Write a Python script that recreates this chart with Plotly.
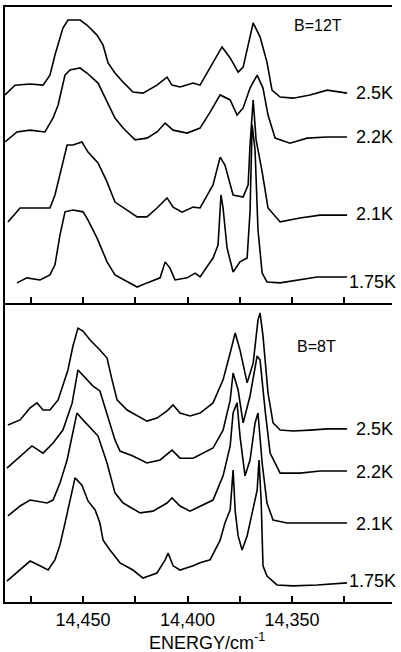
import plotly.graph_objects as go

# ---------------- data ----------------
temps = ["1.75K", "2.1K", "2.2K", "2.5K"]

# B = 12 T panel: vertical offsets of each spectrum (arb. units)
offsets_12T = [9, 30, 56, 71]
# B = 8 T panel
offsets_8T = [6, 26, 43.5, 58]

# ---- B = 12 T spectra (energy in cm^-1, intensity in arb. units) ----
e12_175 = [14481.6, 14476.8, 14470.6, 14465.8, 14463.4, 14461.0, 14458.6, 14454.8, 14450.0, 14448.1,
           14443.3, 14438.5, 14434.7, 14428.9, 14424.1, 14419.4, 14413.1, 14410.7, 14408.4, 14406.0,
           14400.2, 14396.4, 14394.0, 14387.8, 14385.4, 14384.0, 14383.0, 14381.1, 14378.2, 14374.9,
           14371.5, 14370.1, 14369.1, 14367.7, 14366.3, 14364.3, 14362.0, 14355.7, 14346.2, 14338.0,
           14330.4, 14323.7]
i12_175 = [-2.2, -0.5, -1.2, 0.5, 3.9, 14.0, 21.8, 22.4, 21.8, 19.7,
           13.0, 4.9, 0.5, -1.9, -3.6, -2.2, -0.5, 4.9, 2.8, -1.2,
           -0.5, 1.1, -0.2, 6.2, 10.6, 27.5, 23.1, 9.6, 1.5, 4.9,
           6.2, 21.8, 51.2, 42.7, 15.7, 1.1, -1.9, -2.2, -1.2, -0.2,
           -0.2, -0.2]

e12_21 = [14485.9, 14480.1, 14473.9, 14465.8, 14463.4, 14460.0, 14457.6, 14454.8, 14450.5, 14447.6,
          14442.8, 14438.5, 14434.7, 14428.9, 14424.1, 14419.4, 14414.6, 14409.8, 14406.9, 14402.6,
          14397.3, 14394.0, 14387.8, 14384.4, 14382.1, 14378.2, 14373.4, 14371.0, 14370.1, 14368.6,
          14367.2, 14364.3, 14361.5, 14355.7, 14346.2, 14336.6, 14323.7]
i12_21 = [-2.6, 2.1, 2.1, 2.1, 6.5, 16.6, 23.4, 23.4, 24.4, 21.0,
          17.3, 10.9, 4.1, 1.4, -0.9, -0.9, 2.1, 5.5, 2.4, 0.7,
          2.4, 2.1, 9.9, 19.3, 16.6, 6.5, 5.8, 9.9, 23.4, 38.6,
          25.1, 14.3, 2.1, -2.6, -1.3, -0.3, -0.3]

e12_22 = [14487.3, 14481.6, 14475.3, 14468.2, 14464.3, 14461.9, 14458.6, 14456.2, 14451.4, 14448.1,
          14442.8, 14438.5, 14434.7, 14430.8, 14425.1, 14419.4, 14414.6, 14410.7, 14406.9, 14400.2,
          14394.0, 14389.2, 14384.4, 14379.6, 14376.3, 14373.4, 14370.1, 14366.7, 14363.9, 14361.5,
          14358.1, 14351.0, 14342.8, 14333.2, 14323.7]
i12_22 = [-1.6, 1.8, 2.4, 1.8, 6.5, 10.9, 21.0, 22.7, 23.4, 21.7,
          18.3, 11.9, 6.5, 3.1, -0.9, -0.3, 1.8, 4.8, 2.4, 1.4,
          3.1, 8.5, 14.3, 12.6, 7.5, 9.9, 16.6, 21.0, 16.6, 7.5,
          -0.3, -2.0, -0.3, 0.1, 0.1]

e12_25 = [14487.3, 14482.5, 14475.3, 14469.1, 14465.8, 14463.4, 14459.6, 14457.2, 14451.4, 14448.1,
          14443.3, 14440.4, 14438.0, 14434.7, 14430.8, 14426.1, 14421.3, 14414.6, 14409.8, 14407.4,
          14403.6, 14397.3, 14394.0, 14389.2, 14383.5, 14379.6, 14375.8, 14373.4, 14370.1, 14368.6,
          14365.3, 14362.0, 14359.6, 14355.7, 14349.5, 14341.4, 14333.2, 14323.7]
i12_25 = [-0.7, 2.6, 3.0, 2.6, 6.0, 12.8, 21.9, 24.6, 24.6, 22.9,
          19.5, 16.1, 10.1, 6.7, 3.6, 0.3, -0.1, 2.6, 5.3, 2.6,
          2.0, 3.3, 2.6, 8.4, 15.5, 11.8, 7.0, 8.7, 18.5, 23.6,
          18.9, 10.4, 0.9, -1.4, -1.8, -0.7, 0.9, -0.1]

# ---- B = 8 T spectra ----
e8_175 = [14486.4, 14480.1, 14475.3, 14470.6, 14466.7, 14463.4, 14461.0, 14458.6, 14456.2, 14453.8,
          14450.5, 14447.6, 14444.2, 14441.9, 14440.4, 14437.1, 14432.3, 14426.1, 14421.3, 14414.6,
          14410.7, 14409.3, 14406.9, 14403.6, 14397.3, 14394.0, 14389.2, 14384.4, 14382.1, 14379.6,
          14378.2, 14377.2, 14375.8, 14373.9, 14371.5, 14370.1, 14366.7, 14365.8, 14364.8, 14363.9,
          14362.0, 14357.2, 14349.5, 14338.0, 14323.7]
i8_175 = [1.0, 4.7, 7.7, 6.1, 4.7, 8.1, 13.1, 20.4, 28.1, 35.5,
          33.1, 27.8, 24.8, 20.4, 14.7, 11.4, 7.1, 4.7, 2.0, 3.7,
          8.1, 10.4, 6.1, 4.7, 6.1, 7.1, 8.1, 14.7, 20.4, 24.8,
          38.1, 24.4, 16.1, 11.4, 16.1, 20.4, 31.4, 41.5, 28.1, 6.1,
          2.7, -0.3, -0.6, -0.3, 0.4]

e8_21 = [14485.9, 14480.1, 14475.3, 14467.2, 14464.3, 14461.0, 14457.6, 14455.2, 14452.9, 14450.0,
         14446.6, 14442.8, 14438.5, 14434.7, 14430.8, 14422.7, 14416.5, 14409.8, 14407.4, 14403.6,
         14398.8, 14394.0, 14387.8, 14383.0, 14379.6, 14378.2, 14376.3, 14374.9, 14372.5, 14370.1,
         14367.7, 14366.3, 14364.3, 14362.0, 14359.1, 14352.4, 14341.4, 14323.7]
i8_21 = [2.8, 6.1, 8.1, 7.1, 8.1, 13.8, 21.5, 29.5, 37.2, 34.9,
         32.2, 29.5, 20.5, 10.5, 7.1, 3.8, 4.4, 7.1, 8.8, 6.1,
         4.4, 6.1, 8.1, 16.2, 26.2, 37.2, 40.6, 29.5, 16.2, 21.5,
         33.9, 37.2, 20.5, 7.1, 1.4, 0.4, 0.4, 0.4]

e8_22 = [14486.4, 14480.1, 14474.4, 14469.1, 14464.3, 14459.6, 14455.2, 14452.4, 14449.0, 14445.2,
         14441.9, 14438.5, 14434.7, 14432.3, 14426.1, 14419.4, 14413.1, 14407.4, 14403.6, 14397.3,
         14394.0, 14387.8, 14383.0, 14379.6, 14378.2, 14375.8, 14373.4, 14370.1, 14366.7, 14365.3,
         14362.9, 14360.5, 14355.7, 14346.2, 14336.6, 14323.7]
i8_22 = [1.3, 5.3, 8.7, 6.3, 9.7, 14.0, 23.0, 34.1, 31.4, 28.7,
         27.1, 19.7, 10.7, 7.0, 5.3, 3.0, 4.0, 7.3, 4.6, 4.6,
         5.7, 8.0, 14.0, 24.0, 33.1, 27.4, 16.4, 25.4, 38.8, 37.4,
         20.7, 6.3, -0.4, -0.4, 0.3, 0.3]

e8_25 = [14485.9, 14480.1, 14475.3, 14472.0, 14469.1, 14465.8, 14461.9, 14459.6, 14457.2, 14454.8,
         14452.4, 14450.0, 14446.6, 14441.9, 14438.5, 14436.1, 14433.7, 14428.9, 14424.1, 14419.4,
         14414.6, 14409.8, 14406.9, 14403.6, 14398.8, 14394.0, 14387.8, 14383.0, 14379.6, 14377.2,
         14374.9, 14371.5, 14368.6, 14366.3, 14365.3, 14363.9, 14361.5, 14359.1, 14355.7, 14349.5,
         14341.4, 14333.2, 14323.7]
i8_25 = [1.2, 2.9, 6.9, 8.6, 6.2, 6.2, 9.6, 14.2, 19.6, 27.6,
         33.6, 32.6, 29.6, 26.3, 23.6, 16.3, 9.6, 6.2, 4.2, 2.5,
         3.5, 5.9, 7.9, 5.2, 4.2, 5.2, 8.6, 16.3, 25.3, 32.0,
         26.3, 15.3, 21.9, 36.3, 38.7, 31.0, 11.9, 1.9, -0.5, -0.8,
         -0.5, -0.1, -0.1]

spectra_12T = [(e12_175, i12_175), (e12_21, i12_21), (e12_22, i12_22), (e12_25, i12_25)]
spectra_8T = [(e8_175, i8_175), (e8_21, i8_21), (e8_22, i8_22), (e8_25, i8_25)]

x_range = [14487.3, 14302.2]

# ---------------- figure ----------------
fig = go.Figure()
FONT = "Liberation Sans, Arial, sans-serif"

for (e, inten), off in zip(spectra_12T, offsets_12T):
    fig.add_trace(go.Scatter(x=e, y=[off + v for v in inten], mode="lines",
                             line=dict(color="black", width=1.6),
                             xaxis="x2", yaxis="y2", showlegend=False, hoverinfo="skip"))
for (e, inten), off in zip(spectra_8T, offsets_8T):
    fig.add_trace(go.Scatter(x=e, y=[off + v for v in inten], mode="lines",
                             line=dict(color="black", width=1.6),
                             xaxis="x", yaxis="y", showlegend=False, hoverinfo="skip"))

split = 0.5025
axis_common = dict(range=x_range, showgrid=False, zeroline=False, showline=True,
                   linecolor="black", linewidth=2,
                   tickmode="linear", tick0=14350, dtick=50, tickformat=",d",
                   ticks="inside", ticklen=6, tickwidth=1.5, tickcolor="black",
                   minor=dict(tick0=14325, dtick=25, ticks="inside", ticklen=6,
                              tickwidth=1.5, tickcolor="black", showgrid=False))

fig.update_layout(
    width=401, height=652,
    margin=dict(l=5, r=9, t=7, b=50),
    paper_bgcolor="white", plot_bgcolor="white",
    xaxis=dict(**axis_common, domain=[0, 1], anchor="y",
               tickfont=dict(family=FONT, size=18, color="black")),
    yaxis=dict(domain=[0, split], range=[0, 100], showgrid=False, zeroline=False,
               showline=True, linecolor="black", linewidth=2, showticklabels=False,
               ticks=""),
    xaxis2=dict(**axis_common, domain=[0, 1], anchor="y2", showticklabels=False,
                mirror=True),
    yaxis2=dict(domain=[split, 1], range=[0, 100], showgrid=False, zeroline=False,
                showline=True, linecolor="black", linewidth=2, showticklabels=False,
                ticks=""),
)

LBL = dict(family=FONT, size=18, color="black")
for t, off in zip(temps, offsets_12T):
    fig.add_annotation(x=14323.5 if t == "1.75K" else 14320.5, y=off - (2 if t == "1.75K" else 0),
                       xref="x2", yref="y2", text=t, showarrow=False, xanchor="left", font=LBL)
for t, off in zip(temps, offsets_8T):
    fig.add_annotation(x=14323.5 if t == "1.75K" else 14320.5, y=off + (1 if t == "1.75K" else 0),
                       xref="x", yref="y", text=t, showarrow=False, xanchor="left", font=LBL)

fig.add_annotation(x=14337.5, y=93.9, xref="x2", yref="y2", text="B=12T", showarrow=False,
                   font=dict(family=FONT, size=16, color="black"))
fig.add_annotation(x=14338.5, y=85.6, xref="x", yref="y", text="B=8T", showarrow=False,
                   font=dict(family=FONT, size=16, color="black"))

fig.add_annotation(x=0.523, y=-0.043, xref="paper", yref="paper", yanchor="top",
                   text="ENERGY/cm<sup>-1</sup>", showarrow=False,
                   font=dict(family=FONT, size=18, color="black"))

fig.write_html("out.html", config={"displayModeBar": False},
               post_script="document.body.style.margin='0';")
